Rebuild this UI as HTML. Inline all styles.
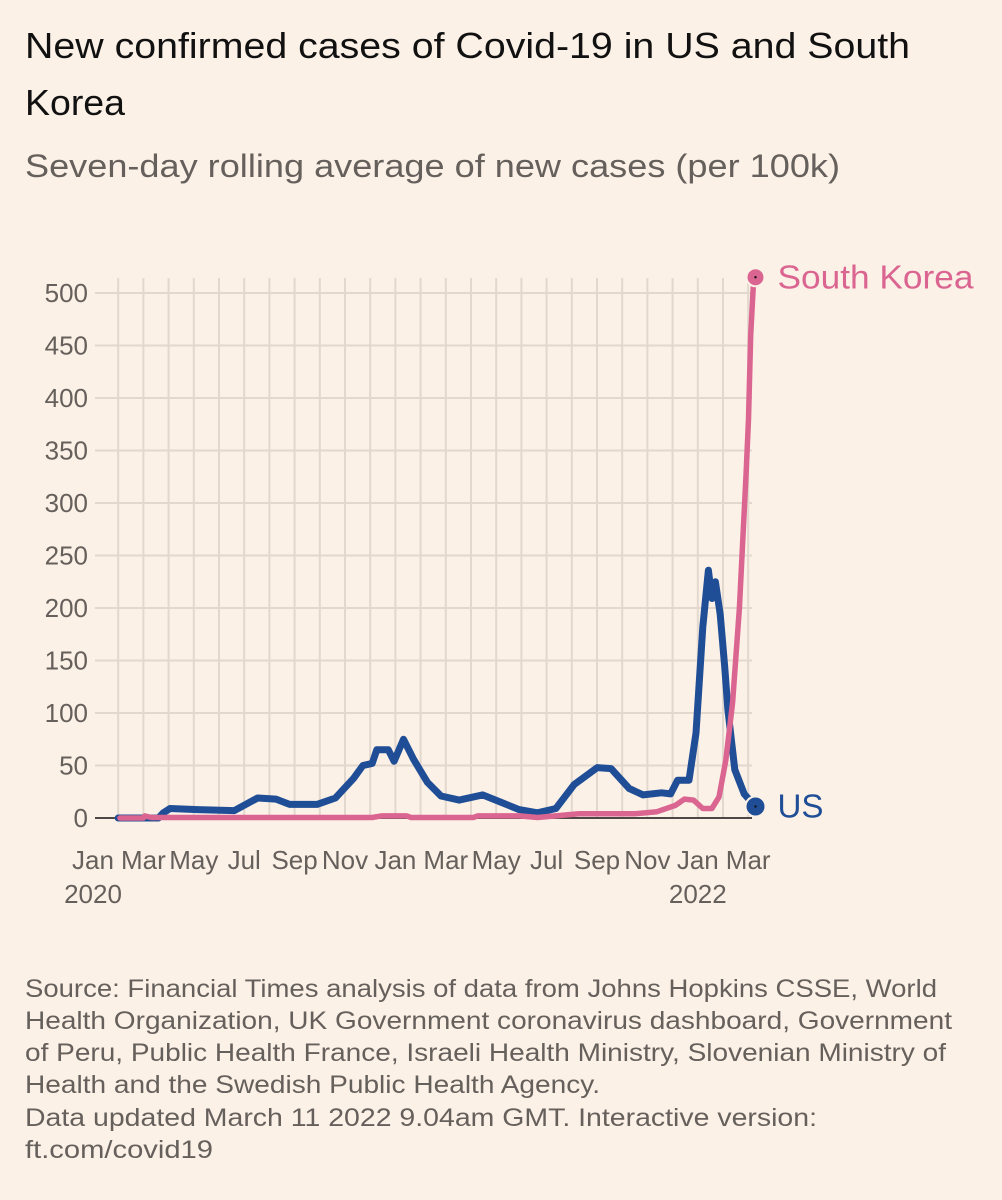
<!DOCTYPE html>
<html><head><meta charset="utf-8"><style>
html,body{margin:0;padding:0;background:#fcf1e7;}
svg{display:block;font-family:"Liberation Sans",sans-serif;}
</style></head><body>
<svg id="chart" width="1002" height="1200" viewBox="0 0 1002 1200" xmlns="http://www.w3.org/2000/svg">
<rect width="1002" height="1200" fill="#fcf1e7"/>
<text x="25" y="58" font-size="36" fill="#111" textLength="885" lengthAdjust="spacingAndGlyphs">New confirmed cases of Covid-19 in US and South</text>
<text x="25" y="115" font-size="36" fill="#111" textLength="100" lengthAdjust="spacingAndGlyphs">Korea</text>
<text x="25" y="177" font-size="32" fill="#66605c" textLength="815" lengthAdjust="spacingAndGlyphs">Seven-day rolling average of new cases (per 100k)</text>
<g id="grid"></g>
<g id="yaxis"></g>
<g id="xaxis"></g>
<g id="series"></g>
<g font-size="25" fill="#66605c">
<text x="25" y="997" textLength="912" lengthAdjust="spacingAndGlyphs">Source: Financial Times analysis of data from Johns Hopkins CSSE, World</text>
<text x="25" y="1029" textLength="927" lengthAdjust="spacingAndGlyphs">Health Organization, UK Government coronavirus dashboard, Government</text>
<text x="25" y="1061" textLength="921" lengthAdjust="spacingAndGlyphs">of Peru, Public Health France, Israeli Health Ministry, Slovenian Ministry of</text>
<text x="25" y="1093" textLength="575" lengthAdjust="spacingAndGlyphs">Health and the Swedish Public Health Agency.</text>
<text x="25" y="1126" textLength="792" lengthAdjust="spacingAndGlyphs">Data updated March 11 2022 9.04am GMT. Interactive version:</text>
<text x="25" y="1158" textLength="188" lengthAdjust="spacingAndGlyphs">ft.com/covid19</text>
</g>
</svg>
<script>
// months since Jan 1 2020
const usMonths = [1.0,2.6,2.79,3.06,4.15,5.61,6.53,7.26,7.80,8.89,9.62,10.35,10.71,11.08,11.26,11.72,11.95,12.32,12.72,13.27,13.81,14.53,15.46,16.19,16.91,17.64,18.37,19.1,20.01,20.56,21.28,21.83,22.56,22.92,23.2,23.65,23.93,24.2,24.42,24.56,24.7,24.89,25.07,25.19,25.47,25.84,26.29];
const usValues = [0,0,5,9,8,7,19,18,13,13,19,38,50,52,65,65,54,75,56,34,21,17,22,15,8,5,9,32,48,47,28,22,24,23,36,36,81,182,236,209,225,194,143,104,46,23,11];
const krMonths = [1.07,2.0,2.06,2.32,11.08,11.44,12.44,12.62,15.09,15.26,16.92,17.64,18.36,19.28,21.47,22.38,23.11,23.47,23.83,24.2,24.56,24.84,25.11,25.38,25.65,25.92,26.01,26.1,26.2,26.29];
const krValues = [0,0,2,0.5,0.5,2,2,0.5,0.5,2,2,0.5,2,4,4,6,12,18,17,9,9,20,55,110,200,330,380,460,505,515];
const yTicks = [0,50,100,150,200,250,300,350,400,450,500];
const xTickLabels = ["Jan","Mar","May","Jul","Sep","Nov","Jan","Mar","May","Jul","Sep","Nov","Jan","Mar"];
const xTickMonths = [0,2,4,6,8,10,12,14,16,18,20,22,24,26];
const NS="http://www.w3.org/2000/svg";
const x = m => 93 + m*25.2;
const y = v => 818 - v*1.05;
function mk(tag, attrs, parent){const e=document.createElementNS(NS,tag);for(const k in attrs)e.setAttribute(k,attrs[k]);parent.appendChild(e);return e;}
const grid=document.getElementById('grid'), ya=document.getElementById('yaxis'), xa=document.getElementById('xaxis'), ser=document.getElementById('series');
for(let m=1;m<=26;m++){
  const l=mk('line',{x1:x(m),x2:x(m),y1:278,y2:818,stroke:'#e2d8ce','stroke-width':2},grid);
  
  
}
yTicks.forEach(v=>{
  if(v>0){const l=mk('line',{x1:95,x2:752,y1:y(v),y2:y(v),stroke:'#e2d8ce','stroke-width':2},grid);
  
  }
  const t=mk('text',{x:88,y:y(v)+9,'text-anchor':'end','font-size':26,fill:'#66605c'},ya);
  t.textContent=v;
  
  
});
const base=mk('line',{x1:95,x2:752,y1:818,y2:818,stroke:'#4d4845','stroke-width':2},grid);


xTickLabels.forEach((s,i)=>{
  const t=mk('text',{x:x(xTickMonths[i]),y:869,'text-anchor':'middle','font-size':26,fill:'#66605c'},xa);
  t.textContent=s;
  
  
});
[["2020",0],["2022",24]].forEach(([s,m])=>{
  const t=mk('text',{x:x(m),y:903,'text-anchor':'middle','font-size':26,fill:'#66605c'},xa);
  t.textContent=s;
  
  
});
function path(ms,vs){return ms.map((m,i)=>(i?'L':'M')+x(m).toFixed(1)+','+y(vs[i]).toFixed(1)).join('');}
const usLine=mk('path',{d:path(usMonths,usValues),fill:'none',stroke:'#1f4e96','stroke-width':7,'stroke-linejoin':'round','stroke-linecap':'round'},ser);


const krLine=mk('path',{d:path(krMonths,krValues),fill:'none',stroke:'#db6591','stroke-width':5.5,'stroke-linejoin':'round','stroke-linecap':'round'},ser);


function endDot(ms,vs,col,name,label,r,len){
  const lx=x(ms[ms.length-1]), ly=y(vs[vs.length-1]);
  const c=mk('circle',{cx:lx,cy:ly,r:r,fill:col,stroke:'#fcf1e7','stroke-width':2},ser);
  
  
  mk('circle',{cx:lx,cy:ly,r:1.2,fill:'#111'},ser);
  const t=mk('text',{x:lx+22,y:ly+11,'font-size':33,fill:col,textLength:len,lengthAdjust:'spacingAndGlyphs'},ser);
  t.textContent=label;
  
  
}
endDot(krMonths,krValues,'#db6591','south-korea','South Korea',9,196);
endDot(usMonths,usValues,'#1f4e96','us','US',10,46);
</script>
</body></html>
